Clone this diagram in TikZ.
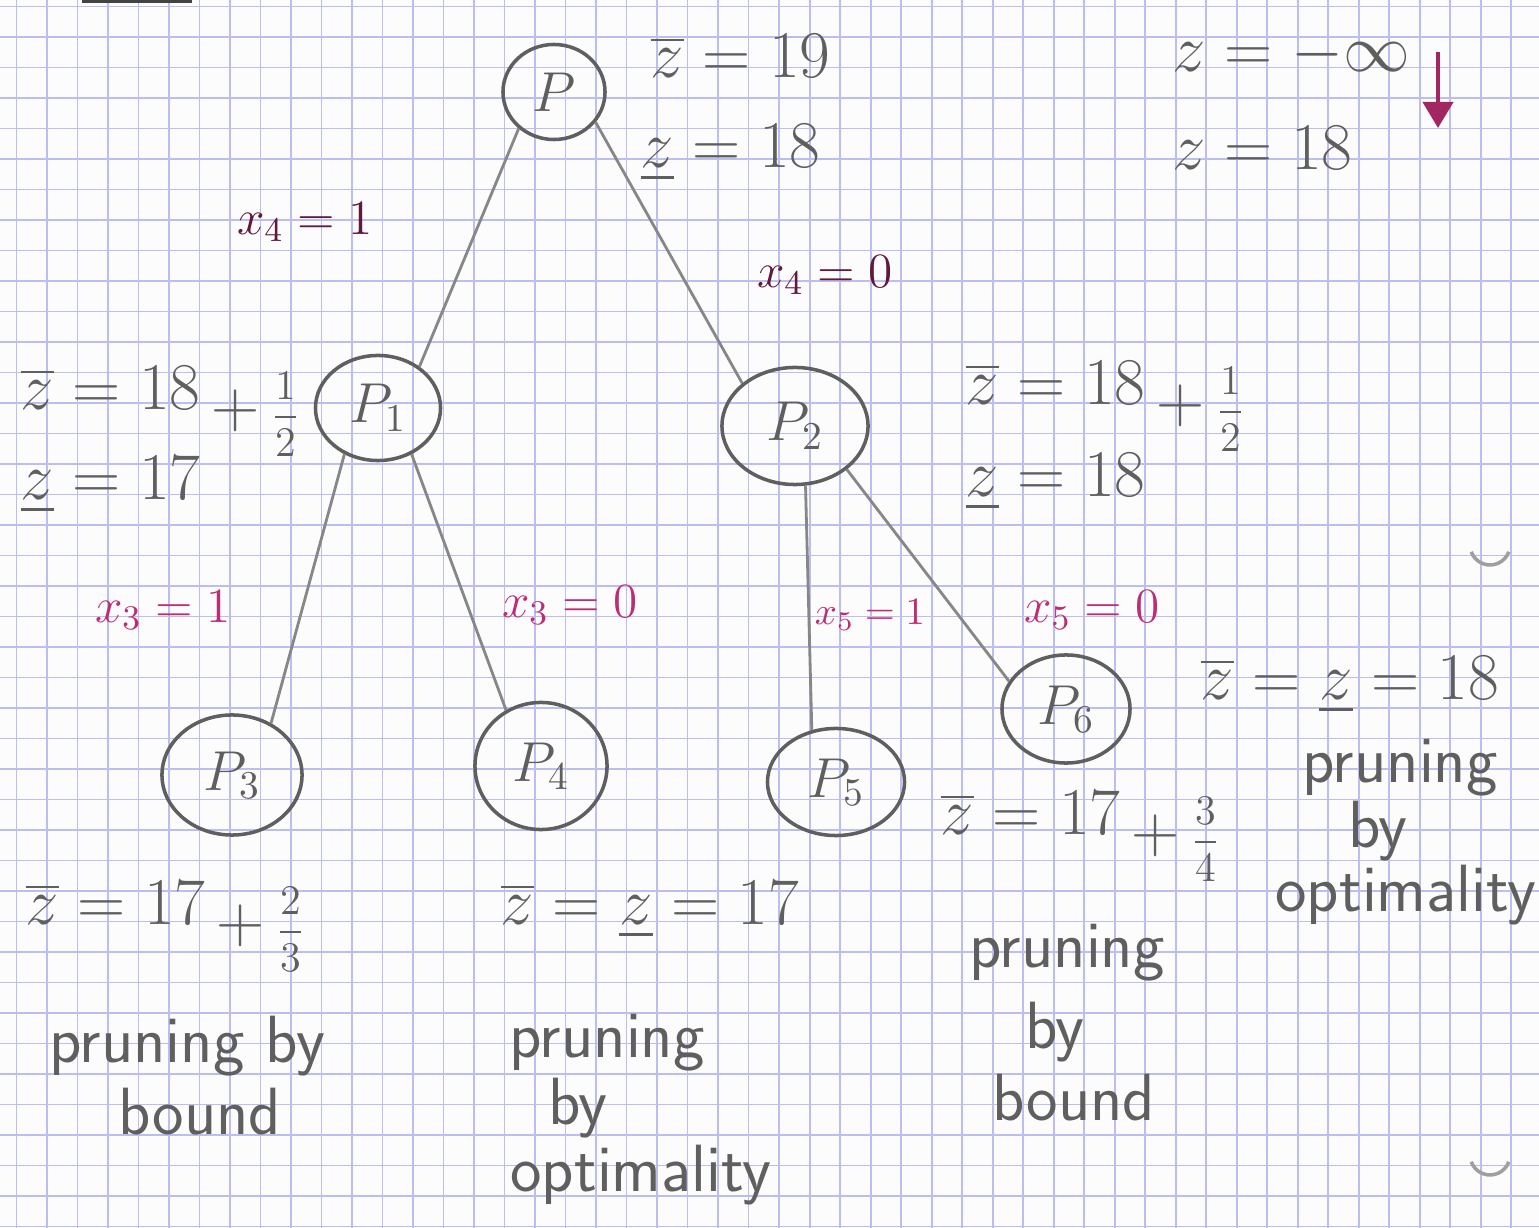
\RequirePackage{fix-cm}
\documentclass[tikz,border=0pt]{standalone}
\usepackage{amsmath,amssymb}
\usepackage{fontspec}
\usepackage{tikz}
\usetikzlibrary{arrows.meta,positioning,shapes.geometric}
\usepackage{xcolor}
\definecolor{paper}{RGB}{252,252,253}
\definecolor{gridblue}{RGB}{188,190,240}
\definecolor{pencil}{RGB}{95,95,95}
\definecolor{ink}{RGB}{190,45,115}
\definecolor{darkink}{RGB}{95,25,60}
\newcommand{\lowfrac}[2]{\,\raisebox{-5pt}{$+\,${\fontsize{12}{14}\selectfont$\dfrac{#1}{#2}$}}}

\begin{document}
\begin{tikzpicture}[
    x=0.01cm, y=-0.01cm,
    prob/.style={draw=pencil, ellipse, line width=1pt, inner sep=0pt, font=\fontsize{16}{19}\selectfont, text=pencil},
    edge/.style={line width=0.8pt, pencil!75},
    val/.style={anchor=base west, inner sep=0pt, text=pencil, font=\fontsize{19}{23}\selectfont},
    branch/.style={inner sep=0pt, text=ink, font=\fontsize{14}{17}\selectfont},
    word/.style={inner sep=0pt, text=pencil, font=\sffamily\fontsize{19}{23}\selectfont, text height=14pt, text depth=4pt},
    gridline/.style={gridblue, line width=0.45pt},
    hole/.style={pencil!60, line width=1pt},
    arr/.style={-{Triangle[length=2.6mm, width=3mm]}, line width=1.2pt, ink!85!black}
]
    \path[use as bounding box, fill=paper] (0,0) rectangle (1539,1228);
    \foreach \i in {0,...,49}
        \draw[gridline] ({16.7+30.5*\i},0) -- ++(0,1228);
    \foreach \j in {0,...,40}
        \draw[gridline] (0,{6.7+30.5*\j}) -- ++(1539,0);
    \draw[pencil!70!black, line width=1.5pt] (82,0.5) -- (192,0.5);
    \draw[hole] (1508.8,551.8) arc[start angle=20, end angle=160, radius=20];
    \draw[hole] (1508.8,1161.8) arc[start angle=20, end angle=160, radius=20];

    \node[prob, minimum width=1.02cm, minimum height=0.95cm] (p) at (554,92) {$P$};
    \node[prob, minimum width=1.25cm, minimum height=1.05cm] (p1) at (378,408) {$P_1$};
    \node[prob, minimum width=1.46cm, minimum height=1.17cm] (p2) at (795,426) {$P_2$};
    \node[prob, minimum width=1.40cm, minimum height=1.20cm] (p3) at (232,775) {$P_3$};
    \node[prob, minimum width=1.32cm, minimum height=1.27cm] (p4) at (541,766) {$P_4$};
    \node[prob, minimum width=1.37cm, minimum height=1.07cm] (p5) at (836,782) {$P_5$};
    \node[prob, minimum width=1.28cm, minimum height=1.08cm] (p6) at (1066,709) {$P_6$};

    \draw[edge] (p.-134) -- (p1.45);
    \draw[edge] (p.-36) -- (p2.141);
    \draw[edge] (p1.-126) -- (p3.53);
    \draw[edge] (p1.-54) -- (p4.122);
    \draw[edge] (p2.-80) -- (p5.115);
    \draw[edge] (p2.-40) -- (p6.154);

    \node[branch, text=darkink] (b11) at (305,222) {$x_4 = 1$};
    \node[branch, text=darkink] (b12) at (825,275) {$x_4 = 0$};
    \node[branch] (b21) at (163,610) {$x_3 = 1$};
    \node[branch] (b22) at (570,605) {$x_3 = 0$};
    \node[branch, font=\fontsize{11}{13}\selectfont] (b31) at (870,615) {$x_5 = 1$};
    \node[branch] (b32) at (1092,610) {$x_5 = 0$};

    \node[val] (ub0) at (650,78) {$\overline{z} = 19$};
    \node[val] (lb0) at (640,168) {$\underline{z} = 18$};
    \node[val] (zinit) at (1172,72) {$z = -\infty$};
    \node[val] (zbest) at (1172,170) {$z = 18$};
    \coordinate (arrtop) at (1438,52);
    \coordinate (arrbot) at (1438,128);
    \draw[arr] (arrtop) -- (arrbot);

    \node[val] (ub1) at (20,410) {$\overline{z} = 18\lowfrac{1}{2}$};
    \node[val] (lb1) at (20,500) {$\underline{z} = 17$};
    \node[val] (ub2) at (965,405) {$\overline{z} = 18\lowfrac{1}{2}$};
    \node[val] (lb2) at (965,497) {$\underline{z} = 18$};
    \node[val] (ub3) at (25,925) {$\overline{z} = 17\lowfrac{2}{3}$};
    \node[val] (ub4) at (500,925) {$\overline{z} = \underline{z} = 17$};
    \node[val] (ub5) at (940,835) {$\overline{z} = 17\lowfrac{3}{4}$};
    \node[val] (ub6) at (1200,700) {$\overline{z} = \underline{z} = 18$};

    \node[word] (pr3a) at (187,1045) {pruning by};
    \node[word, below=0.07cm of pr3a, xshift=0.13cm] (pr3b) {bound};
    \node[word] (pr4a) at (607,1040) {pruning};
    \node[word, below=0.02cm of pr4a, xshift=-0.29cm] (pr4b) {by};
    \node[word, below=0.02cm of pr4b, xshift=0.63cm] (pr4c) {optimality};
    \node[word] (pr5a) at (1067,950) {pruning};
    \node[word, below=0.165cm of pr5a, xshift=-0.12cm] (pr5b) {by};
    \node[word, below=0.065cm of pr5b, xshift=0.19cm] (pr5c) {bound};
    \node[word] (pr6a) at (1400,765) {pruning};
    \node[word, below=0cm of pr6a, xshift=-0.22cm] (pr6b) {by};
    \node[word, below=0cm of pr6b, xshift=0.28cm] (pr6c) {optimality};
\end{tikzpicture}
\end{document}
